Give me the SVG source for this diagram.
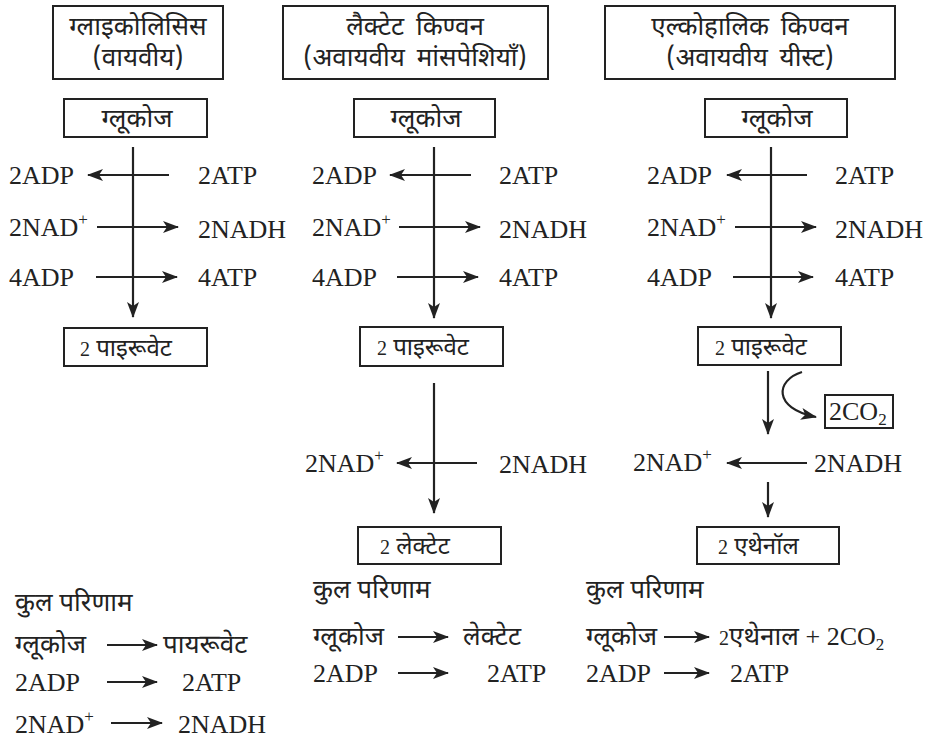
<svg xmlns="http://www.w3.org/2000/svg" width="926" height="738" viewBox="0 0 926 738">
<style>
.box{fill:#fff;stroke:#222;stroke-width:2}
.ln{stroke:#222;stroke-width:2.2;fill:none}
.arr{marker-end:url(#ah)}
.hi{font-family:"Noto Sans Devanagari","Lohit Devanagari","Noto Sans",sans-serif;font-size:26px;fill:#222}
.ht{font-family:"Noto Sans Devanagari","Lohit Devanagari","Noto Sans",sans-serif;font-size:26px;fill:#222;word-spacing:5px}
.hs{font-family:"Noto Sans Devanagari","Lohit Devanagari","Noto Sans",sans-serif;font-size:24px;fill:#222}
.en{font-family:"Liberation Serif","Times New Roman",serif;font-size:26px;fill:#222}
.sm{font-family:"Liberation Serif","Times New Roman",serif;font-size:20px}
.sup{font-size:17px}
</style>
<defs>
<marker id="ah" viewBox="0 0 16 12" refX="15" refY="6" markerWidth="16" markerHeight="12" markerUnits="userSpaceOnUse" orient="auto">
<path d="M0,0 L16,6 L0,12 L4,6 z" fill="#222"/>
</marker>
</defs>
<rect width="926" height="738" fill="#fff"/>

<g id="connectors">
<!-- column 1 -->
<line class="ln arr" x1="133" y1="147" x2="133" y2="317"/>
<line class="ln arr" x1="169" y1="175" x2="88" y2="175"/>
<line class="ln arr" x1="97" y1="227" x2="178" y2="227"/>
<line class="ln arr" x1="96" y1="277" x2="177" y2="277"/>
<!-- column 2 -->
<line class="ln arr" x1="434" y1="147" x2="434" y2="318"/>
<line class="ln arr" x1="471" y1="175" x2="390" y2="175"/>
<line class="ln arr" x1="399" y1="227" x2="480" y2="227"/>
<line class="ln arr" x1="397" y1="277" x2="478" y2="277"/>
<line class="ln arr" x1="434" y1="383" x2="434" y2="513"/>
<line class="ln arr" x1="477" y1="463" x2="397" y2="463"/>
<!-- column 3 -->
<line class="ln arr" x1="771" y1="147" x2="771" y2="318"/>
<line class="ln arr" x1="807" y1="175" x2="727" y2="175"/>
<line class="ln arr" x1="735" y1="227" x2="816" y2="227"/>
<line class="ln arr" x1="733" y1="277" x2="813" y2="277"/>
<line class="ln arr" x1="768" y1="371" x2="768" y2="434"/>
<path class="ln arr" d="M802,372 C776,380 772,408 816,417"/>
<line class="ln arr" x1="807" y1="463" x2="727" y2="463"/>
<line class="ln arr" x1="768" y1="482" x2="768" y2="517"/>
<!-- summaries -->
<line class="ln arr" x1="107" y1="645" x2="157" y2="645"/>
<line class="ln arr" x1="107" y1="682" x2="157" y2="682"/>
<line class="ln arr" x1="111" y1="723" x2="162" y2="723"/>
<line class="ln arr" x1="398" y1="637" x2="448" y2="637"/>
<line class="ln arr" x1="398" y1="673" x2="448" y2="673"/>
<line class="ln arr" x1="664" y1="637" x2="709" y2="637"/>
<line class="ln arr" x1="664" y1="673" x2="709" y2="673"/>
</g>

<g id="title1"><rect class="box" x="53" y="6" width="170" height="73"/>
<text class="ht" x="138" y="35" text-anchor="middle">ग्लाइकोलिसिस</text>
<text class="ht" x="138" y="66" text-anchor="middle">(वायवीय)</text></g>
<g id="title2"><rect class="box" x="283" y="6" width="265" height="73"/>
<text class="ht" x="415" y="35" text-anchor="middle">लैक्टेट किण्वन</text>
<text class="ht" x="415" y="66" text-anchor="middle">(अवायवीय मांसपेशियाँ)</text></g>
<g id="title3"><rect class="box" x="605" y="6" width="290" height="73"/>
<text class="ht" x="750" y="35" text-anchor="middle">एल्कोहालिक किण्वन</text>
<text class="ht" x="750" y="66" text-anchor="middle">(अवायवीय यीस्ट)</text></g>

<g id="glucose1"><rect class="box" x="64" y="99" width="143" height="38"/>
<text class="hi" x="137" y="127" text-anchor="middle">ग्लूकोज</text></g>
<g id="glucose2"><rect class="box" x="354" y="99" width="141" height="38"/>
<text class="hi" x="426" y="127" text-anchor="middle">ग्लूकोज</text></g>
<g id="glucose3"><rect class="box" x="705" y="99" width="142" height="38"/>
<text class="hi" x="777" y="127" text-anchor="middle">ग्लूकोज</text></g>

<g id="labels1">
<text class="en" x="9" y="184">2ADP</text>
<text class="en" x="198" y="184">2ATP</text>
<text class="en" x="9" y="236">2NAD<tspan class="sup" dy="-11">+</tspan></text>
<text class="en" x="198" y="238">2NADH</text>
<text class="en" x="9" y="286">4ADP</text>
<text class="en" x="198" y="286">4ATP</text>
</g>
<g id="labels2">
<text class="en" x="312" y="184">2ADP</text>
<text class="en" x="499" y="184">2ATP</text>
<text class="en" x="312" y="236">2NAD<tspan class="sup" dy="-11">+</tspan></text>
<text class="en" x="499" y="238">2NADH</text>
<text class="en" x="312" y="286">4ADP</text>
<text class="en" x="499" y="286">4ATP</text>
<text class="en" x="305" y="472">2NAD<tspan class="sup" dy="-11">+</tspan></text>
<text class="en" x="499" y="473">2NADH</text>
</g>
<g id="labels3">
<text class="en" x="647" y="184">2ADP</text>
<text class="en" x="835" y="184">2ATP</text>
<text class="en" x="647" y="236">2NAD<tspan class="sup" dy="-11">+</tspan></text>
<text class="en" x="835" y="238">2NADH</text>
<text class="en" x="647" y="286">4ADP</text>
<text class="en" x="835" y="286">4ATP</text>
<text class="en" x="633" y="471">2NAD<tspan class="sup" dy="-11">+</tspan></text>
<text class="en" x="814" y="472">2NADH</text>
</g>

<g id="pyruvate1"><rect class="box" x="64" y="328" width="143" height="38"/>
<text class="hs" x="80" y="356"><tspan class="sm">2</tspan> पाइरूवेट</text></g>
<g id="pyruvate2"><rect class="box" x="360" y="327" width="143" height="39"/>
<text class="hs" x="377" y="355"><tspan class="sm">2</tspan> पाइरूवेट</text></g>
<g id="pyruvate3"><rect class="box" x="698" y="327" width="143" height="38"/>
<text class="hs" x="715" y="355"><tspan class="sm">2</tspan> पाइरूवेट</text></g>

<g id="co2"><rect class="box" x="825" y="395" width="68" height="33"/>
<text class="en" x="829" y="420">2CO<tspan class="sup" dy="5">2</tspan></text></g>

<g id="lactate"><rect class="box" x="358" y="527" width="143" height="37"/>
<text class="hs" x="380" y="554"><tspan class="sm">2</tspan> लेक्टेट</text></g>
<g id="ethanol"><rect class="box" x="697" y="527" width="142" height="37"/>
<text class="hs" x="718" y="554"><tspan class="sm">2</tspan> एथेनॉल</text></g>

<g id="summary1">
<text class="hi" x="15" y="611">कुल परिणाम</text>
<text class="hi" x="15" y="653">ग्लूकोज</text>
<text class="hi" x="163" y="653">पायरूवेट</text>
<text class="en" x="15" y="691">2ADP</text>
<text class="en" x="182" y="691">2ATP</text>
<text class="en" x="15" y="733">2NAD<tspan class="sup" dy="-11">+</tspan></text>
<text class="en" x="178" y="733">2NADH</text>
</g>
<g id="summary2">
<text class="hi" x="313" y="598">कुल परिणाम</text>
<text class="hi" x="313" y="645">ग्लूकोज</text>
<text class="hi" x="463" y="645">लेक्टेट</text>
<text class="en" x="313" y="682">2ADP</text>
<text class="en" x="487" y="682">2ATP</text>
</g>
<g id="summary3">
<text class="hi" x="586" y="598">कुल परिणाम</text>
<text class="hi" x="586" y="645">ग्लूकोज</text>
<text class="hi" x="719" y="645"><tspan class="sm" font-size="17">2</tspan>एथेनाल <tspan class="en" font-size="26">+ 2CO</tspan><tspan class="en sup" dy="5">2</tspan></text>
<text class="en" x="586" y="682">2ADP</text>
<text class="en" x="730" y="682">2ATP</text>
</g>
</svg>
